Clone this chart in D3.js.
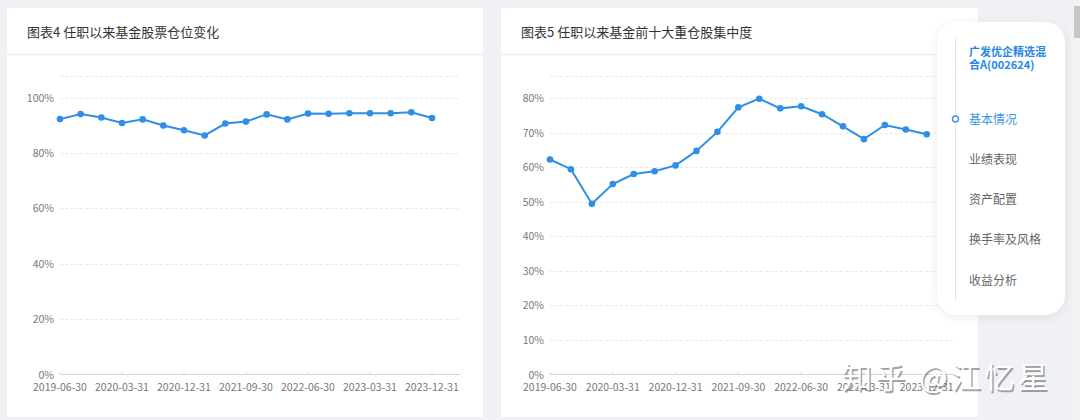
<!DOCTYPE html>
<html>
<head>
<meta charset="utf-8">
<script src="https://cdn.jsdelivr.net/npm/d3@7"></script>
<style>
body{margin:0;background:#eff1f5;overflow:hidden;}
text{font-family:"Noto Sans CJK SC","Noto Sans",sans-serif;}
</style>
</head>
<body>
<svg id="page" width="1080" height="420"></svg>
<script>
// quarter-end report dates
var quarters = ["2019-06-30","2019-09-30","2019-12-31","2020-03-31","2020-06-30","2020-09-30",
    "2020-12-31","2021-03-31","2021-06-30","2021-09-30","2021-12-31","2022-03-31","2022-06-30",
    "2022-09-30","2022-12-31","2023-03-31","2023-06-30","2023-09-30","2023-12-31"];
var tickLabels = ["2019-06-30","2020-03-31","2020-12-31","2021-09-30","2022-06-30","2023-03-31","2023-12-31"];

// 图表4 股票仓位 (%)
var stockPosition = [92.2,94.0,92.8,90.8,92.1,89.9,88.2,86.3,90.6,91.3,93.9,92.1,94.2,94.1,94.3,94.3,94.3,94.7,92.6];
var stockTicks = [0,20,40,60,80,100];

// 图表5 前十大重仓股集中度 (%)
var top10Share = [62.2,59.4,49.4,55.1,58.0,58.8,60.5,64.7,70.2,77.3,79.8,77.0,77.6,75.3,71.8,68.1,72.2,70.9,69.5];
var top10Ticks = [0,10,20,30,40,50,60,70,80];

var navTitle = ["广发优企精选混", "合A(002624)"];
var navItems = ["基本情况","业绩表现","资产配置","换手率及风格","收益分析"];

var LINE = "#2f8fe6";
var svg = d3.select("#page");

var defs = svg.append("defs");
var sh = defs.append("filter").attr("id","shadow").attr("x","-20%").attr("y","-20%").attr("width","140%").attr("height","140%");
sh.append("feDropShadow").attr("dx",0).attr("dy",2).attr("stdDeviation",5)
    .attr("flood-color","#000").attr("flood-opacity",0.08);

function drawCard(o){
    var g = svg.append("g");
    g.append("rect").attr("x",o.cx).attr("y",8).attr("width",o.cw).attr("height",409).attr("fill","#fff");
    g.append("text").attr("x",o.cx+20).attr("y",37).attr("font-size",13).attr("fill","#333").text(o.title);
    g.append("line").attr("x1",o.cx).attr("x2",o.cx+o.cw).attr("y1",54.5).attr("y2",54.5)
        .attr("stroke","#ebebeb");

    var x = d3.scalePoint().domain(quarters).range([o.x0,o.x1]);
    var y = d3.scaleLinear().domain([0,d3.max(o.ticks)]).range([374.5,o.yTop]);

    // grid lines (top border line + ticks)
    var gridY = o.ticks.filter(function(d){return d>0;}).map(function(d){return y(d);});
    gridY.push(76);
    g.selectAll(".grid").data(gridY).enter().append("line")
        .attr("x1",o.x0).attr("x2",o.xEnd)
        .attr("y1",function(d){return Math.round(d)+0.5;})
        .attr("y2",function(d){return Math.round(d)+0.5;})
        .attr("stroke","#e9e9e9").attr("stroke-dasharray","3,2");

    g.selectAll(".ylab").data(o.ticks).enter().append("text")
        .attr("x",o.x0-6).attr("y",function(d){return y(d)+4;})
        .attr("text-anchor","end").attr("font-size",10.5).attr("fill","#777")
        .text(function(d){return d+"%";});

    // x axis
    g.append("line").attr("x1",o.x0).attr("x2",o.xEnd).attr("y1",374.5).attr("y2",374.5)
        .attr("stroke","#d4d4d4");
    g.selectAll(".xt").data(tickLabels).enter().append("line")
        .attr("x1",function(d){return x(d);}).attr("x2",function(d){return x(d);})
        .attr("y1",372).attr("y2",374.5).attr("stroke","#d4d4d4");
    g.selectAll(".xlab").data(tickLabels).enter().append("text")
        .attr("x",function(d){return x(d);}).attr("y",391)
        .attr("text-anchor","middle").attr("font-size",10.5).attr("fill","#777")
        .text(function(d){return d;});

    var line = d3.line().x(function(d,i){return x(quarters[i]);}).y(function(d){return y(d);});
    g.append("path").datum(o.values).attr("d",line).attr("fill","none")
        .attr("stroke",LINE).attr("stroke-width",2);
    g.selectAll(".pt").data(o.values).enter().append("circle")
        .attr("cx",function(d,i){return x(quarters[i]);}).attr("cy",function(d){return y(d);})
        .attr("r",3.3).attr("fill",LINE);
}

drawCard({cx:7,cw:476,title:"图表4 任职以来基金股票仓位变化",x0:60,x1:432,xEnd:460,
    ticks:stockTicks,yTop:97.5,values:stockPosition});
drawCard({cx:501,cw:477,title:"图表5 任职以来基金前十大重仓股集中度",x0:550,x1:926.7,xEnd:955,
    ticks:top10Ticks,yTop:98,values:top10Share});

// side navigation panel
var nav = svg.append("g");
nav.append("rect").attr("x",937).attr("y",22).attr("width",128).attr("height",293).attr("rx",20)
    .attr("fill","#fff").attr("filter","url(#shadow)");
nav.append("line").attr("x1",955.5).attr("x2",955.5).attr("y1",38).attr("y2",300).attr("stroke","#e4e4e4");
nav.selectAll(".nt").data(navTitle).enter().append("text")
    .attr("x",969).attr("y",function(d,i){return 56+i*12.5;})
    .attr("font-size",11).attr("font-weight","bold").attr("fill","#1f88e5").text(function(d){return d;});
nav.append("circle").attr("cx",955.5).attr("cy",119).attr("r",3).attr("fill","#fff")
    .attr("stroke","#3b97e8").attr("stroke-width",1.4);
nav.selectAll(".ni").data(navItems).enter().append("text")
    .attr("x",969).attr("y",function(d,i){return 123.5+i*40.3;})
    .attr("font-size",12).attr("fill",function(d,i){return i==0 ? "#3b97e8" : "#666";})
    .text(function(d){return d;});

// scrollbar
svg.append("rect").attr("x",1073).attr("y",0).attr("width",7).attr("height",420).attr("fill","#f3f3f3");
svg.append("rect").attr("x",1074).attr("y",6).attr("width",6).attr("height",32).attr("fill","#c6c6c6");

// watermark
var wm = "知乎 @江忆星";
svg.append("text").attr("x",843.5).attr("y",389.5).attr("font-size",30).attr("fill","#555")
    .attr("fill-opacity",0.55).attr("letter-spacing",3.5).text(wm);
svg.append("text").attr("x",842).attr("y",388).attr("font-size",30).attr("fill","#fff")
    .attr("letter-spacing",3.5).text(wm);
</script>
</body>
</html>
